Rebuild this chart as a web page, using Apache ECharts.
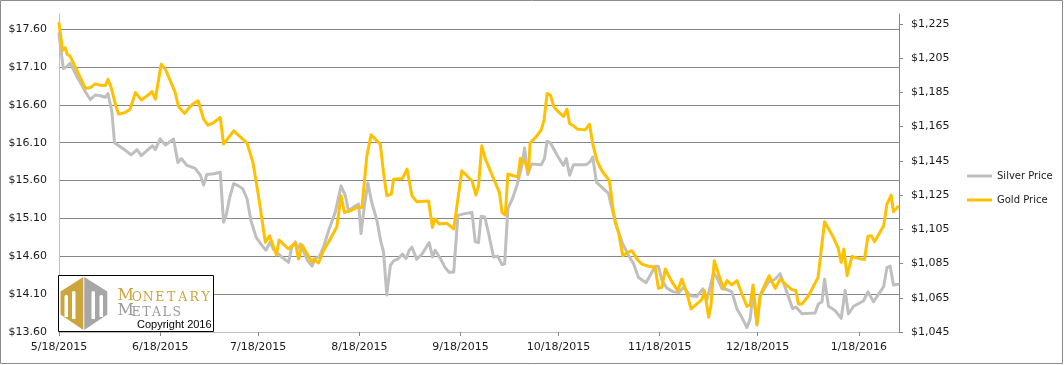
<!DOCTYPE html>
<html><head><meta charset="utf-8">
<script src="https://cdn.jsdelivr.net/npm/echarts@6/dist/echarts.min.js"></script>
<style>html,body{margin:0;padding:0;background:#fff}#c{width:1064px;height:365px}</style>
</head><body><div id="c"></div>
<script>
// x values: days since 5/18/2015
const xTickDays = [0, 31, 61, 92, 123, 153, 184, 214, 245];
const xTickLabels = ['5/18/2015','6/18/2015','7/18/2015','8/18/2015','9/18/2015','10/18/2015','11/18/2015','12/18/2015','1/18/2016'];

const silverDays = [0,1.3,2.3,3.4,4.5,5.5,7.0,8.1,9.6,11.1,12.7,14.2,15.0,16.2,17.0,18.3,20.3,22.1,23.9,25.2,27.0,28.7,29.5,31.0,32.6,33.6,35.1,36.4,37.5,39.2,41.7,43.3,44.3,45.3,47.4,49.4,50.4,51.2,52.3,53.5,55.0,56.3,57.6,58.8,60.4,62.2,63.4,64.7,65.7,67.3,68.8,70.3,71.3,72.4,73.1,73.9,76.2,77.5,78.5,79.8,81.0,82.6,84.6,86.4,87.7,88.7,90.2,91.8,92.5,93.5,94.6,95.8,97.4,98.6,99.4,100.4,101.5,102.5,104.0,105.2,106.3,107.3,108.1,109.6,111.2,113.4,114.4,115.2,116.8,118.3,119.5,120.9,122.2,123.9,126.5,127.5,128.5,129.3,130.4,131.6,133.1,134.4,135.7,136.5,137.5,138.9,140.3,141.8,142.6,143.6,144.7,147.7,148.7,149.5,150.5,152.5,154.5,155.4,156.4,157.6,161.5,162.7,163.5,164.6,166.3,168.3,169.4,170.9,172.7,174.5,176.0,177.5,179.8,181.6,182.6,183.6,184.7,186.2,188.2,189.8,191.3,193.4,195.4,197.2,198.5,200.5,201.5,203.1,204.6,206.1,207.7,209.2,210.7,211.7,212.6,213.8,214.8,217.3,219.4,220.9,223.0,224.7,225.7,227.6,231.6,232.6,233.7,234.5,235.7,237.8,239.6,240.8,241.8,243.4,246.4,247.8,249.5,252.6,253.6,254.6,255.6,257.0];
const silverPrices = [17.54,17.08,17.10,17.15,17.06,16.97,16.86,16.77,16.67,16.73,16.72,16.70,16.75,16.51,16.10,16.06,16.00,15.94,16.01,15.93,16.00,16.06,16.01,16.15,16.07,16.10,16.15,15.84,15.89,15.80,15.76,15.67,15.54,15.68,15.69,15.71,15.05,15.14,15.38,15.56,15.53,15.49,15.36,15.07,14.85,14.74,14.68,14.79,14.69,14.63,14.57,14.52,14.72,14.79,14.70,14.76,14.54,14.47,14.57,14.60,14.72,14.94,15.18,15.53,15.40,15.20,15.25,15.29,14.90,15.25,15.57,15.31,15.07,14.79,14.66,14.09,14.48,14.54,14.57,14.63,14.57,14.68,14.72,14.56,14.63,14.78,14.59,14.68,14.57,14.45,14.39,14.39,15.14,15.16,15.18,14.79,14.78,15.13,15.12,14.90,14.59,14.60,14.49,14.50,15.23,15.36,15.54,15.80,16.03,15.68,15.82,15.81,15.89,16.12,16.10,15.94,15.80,15.89,15.67,15.81,15.81,15.85,15.91,15.58,15.51,15.43,15.23,14.98,14.76,14.61,14.50,14.32,14.25,14.39,14.47,14.47,14.28,14.18,14.13,14.12,14.19,14.08,14.07,14.17,14.03,14.38,14.32,14.17,14.16,14.13,13.90,13.79,13.66,13.77,14.12,13.69,14.08,14.26,14.30,14.37,14.12,13.91,13.93,13.84,13.85,13.97,14.00,14.30,13.94,13.88,13.78,14.15,13.84,13.94,14.01,14.13,14.00,14.20,14.45,14.47,14.22,14.23];

const goldDays = [0,1.1,1.9,2.5,3.4,4.2,8.1,9.6,11.1,12.7,14.2,15.0,16.0,17.4,18.3,20.3,21.8,23.4,25.2,27.0,28.5,29.5,31.3,32.6,34.1,35.6,36.6,38.5,39.7,40.9,42.6,44.3,45.6,47.4,49.4,50.4,53.5,57.6,59.4,61.1,63.2,64.5,66.6,67.4,70.3,72.4,73.4,74.4,77.5,78.0,79.5,81.0,83.1,85.1,86.4,87.4,89.2,91.3,92.8,94.3,95.6,98.4,99.4,100.4,101.8,102.5,105.2,106.6,108.1,109.6,113.2,114.4,115.2,116.5,118.8,120.9,123.4,126.5,127.7,128.5,129.5,130.6,133.6,134.9,135.7,136.7,137.5,139.2,140.6,141.3,142.8,143.8,144.3,146.4,147.7,148.6,149.5,150.5,151.6,153.0,154.5,155.6,156.4,157.6,158.8,161.2,162.5,163.5,164.8,166.3,168.6,169.7,170.4,171.4,172.7,174.1,175.5,177.2,178.5,180.6,182.6,183.6,184.7,185.7,187.7,189.5,190.8,192.3,193.6,195.4,196.9,197.7,199.0,199.7,200.7,202.2,203.6,204.6,206.1,207.7,209.2,210.7,211.7,212.6,213.8,214.8,217.5,219.4,220.9,222.4,224.5,225.7,226.5,227.6,229.6,232.5,234.5,236.8,238.6,239.6,240.4,241.4,242.9,244.9,246.7,247.8,248.8,249.8,252.6,253.6,254.9,255.6,257.0];
const goldPrices = [1225.4,1209.5,1211.2,1207.3,1206.3,1203.0,1187.3,1187.8,1190.0,1189.2,1189.0,1192.7,1187.8,1177.1,1172.3,1173.2,1175.2,1184.9,1180.6,1183.0,1185.5,1181.0,1201.5,1198.5,1191.7,1184.9,1176.6,1172.7,1175.6,1178.1,1180.1,1169.4,1165.9,1167.4,1170.3,1154.8,1162.5,1155.4,1144.1,1124.6,1097.4,1101.3,1090.0,1098.7,1093.5,1097.0,1087.6,1096.0,1085.7,1087.6,1085.3,1092.5,1099.3,1106.5,1124.6,1114.9,1115.7,1117.8,1117.8,1148.0,1160.2,1154.8,1138.2,1124.6,1125.6,1134.3,1134.7,1140.2,1124.6,1121.1,1121.5,1106.1,1111.0,1108.1,1108.5,1105.2,1139.2,1133.4,1125.0,1130.4,1153.8,1146.0,1132.4,1126.6,1114.9,1113.3,1137.3,1136.3,1135.7,1146.4,1144.1,1138.2,1155.4,1159.6,1163.1,1169.0,1184.3,1183.6,1176.5,1173.6,1170.9,1175.2,1166.8,1165.5,1163.5,1163.1,1166.4,1154.8,1145.0,1139.2,1133.4,1116.8,1109.0,1103.2,1089.6,1091.5,1092.5,1087.3,1084.7,1083.4,1082.8,1070.5,1071.1,1081.8,1074.4,1069.2,1076.0,1067.8,1058.5,1061.4,1063.9,1069.2,1053.6,1060.4,1086.7,1077.9,1070.5,1075.0,1072.5,1075.0,1067.2,1060.0,1060.8,1072.5,1049.7,1066.6,1077.9,1070.5,1076.0,1073.1,1069.7,1069.2,1061.4,1061.4,1066.2,1076.9,1109.4,1101.7,1094.5,1085.7,1093.5,1077.9,1089.2,1088.0,1087.3,1100.9,1101.3,1097.8,1107.1,1119.7,1125.0,1115.3,1118.2];

const chart = echarts.init(document.getElementById('c'), null, {renderer: 'canvas'});
const labelFont = {fontFamily: 'DejaVu Sans', fontSize: 11, color: '#1a1a1a'};
function commas(n) { return String(Math.round(n)).replace(/\B(?=(\d{3})+(?!\d))/g, ','); }

// logo letters
const logoGraphics = [];
function spaced(word, x0, step, y, size, color) {
  for (let i = 0; i < word.length; i++) {
    logoGraphics.push({type: 'text', z: 103, style: {text: word[i], x: x0 + step * (i + 0.5), y: y, align: 'center', verticalAlign: 'middle', font: size + 'px "DejaVu Serif"', fill: color}});
  }
}
const goldC = '#CDA53F', grayC = '#9A9A9A';
logoGraphics.push({type: 'text', z: 103, style: {text: 'M', x: 117.5, y: 296.3, align: 'left', verticalAlign: 'middle', font: '16px "DejaVu Serif"', fill: goldC}});
spaced('ONETARY', 131, 11.5, 297.4, 12.5, goldC);
logoGraphics.push({type: 'text', z: 103, style: {text: 'M', x: 117.5, y: 311.3, align: 'left', verticalAlign: 'middle', font: '16px "DejaVu Serif"', fill: grayC}});
spaced('ETALS', 131, 10.2, 312.4, 12.5, grayC);

chart.setOption({
  animation: false,
  backgroundColor: '#ffffff',
  grid: {left: 59, right: 165, top: 14, bottom: 33, containLabel: false},
  legend: {
    orient: 'vertical', left: 962, top: 164, itemWidth: 25, itemHeight: 3, itemGap: 10, icon: 'rect',
    textStyle: {fontFamily: 'DejaVu Sans', fontSize: 10, color: '#1a1a1a', lineHeight: 14},
    data: ['Silver Price', 'Gold Price']
  },
  xAxis: {
    type: 'value', min: 0, max: 257.3,
    axisLine: {show: true, lineStyle: {color: '#BFBFBF', width: 1}},
    axisTick: {show: true, length: 4, lineStyle: {color: '#868686'}, customValues: xTickDays},
    axisLabel: Object.assign({margin: 10, customValues: xTickDays, formatter: v => { const i = xTickDays.indexOf(v); return i >= 0 ? xTickLabels[i] : ''; }}, labelFont),
    splitLine: {show: false}
  },
  yAxis: [
    {
      type: 'value', min: 13.6, max: 17.8, interval: 0.5, position: 'left',
      axisLine: {show: true, lineStyle: {color: '#BFBFBF', width: 1}},
      axisTick: {show: false},
      axisLabel: Object.assign({margin: 12, showMaxLabel: false, formatter: v => '$' + v.toFixed(2)}, labelFont),
      splitLine: {show: true, showMaxLine: false, showMinLine: false, lineStyle: {color: '#868686', width: 1}}
    },
    {
      type: 'value', min: 1045, max: 1230.8, interval: 20, position: 'right',
      axisLine: {show: true, lineStyle: {color: '#868686', width: 1}},
      axisTick: {show: true, length: 4, inside: false, lineStyle: {color: '#868686'}},
      axisLabel: Object.assign({margin: 12, showMaxLabel: false, formatter: v => '$' + commas(v)}, labelFont),
      splitLine: {show: false}
    }
  ],
  series: [
    {name: 'Silver Price', type: 'line', yAxisIndex: 0, showSymbol: false, symbol: 'none', z: 3,
     lineStyle: {color: '#BFBFBF', width: 3, join: 'round', cap: 'round'}, itemStyle: {color: '#BFBFBF'},
     data: silverDays.map((d, i) => [d, silverPrices[i]])},
    {name: 'Gold Price', type: 'line', yAxisIndex: 1, showSymbol: false, symbol: 'none', z: 4,
     lineStyle: {color: '#FFC000', width: 3, join: 'round', cap: 'round'}, itemStyle: {color: '#FFC000'},
     data: goldDays.map((d, i) => [d, goldPrices[i]])}
  ],
  graphic: [
    {type: 'rect', z: 1, silent: true, shape: {x: 0.5, y: 0.5, width: 1062, height: 363}, style: {fill: 'none', stroke: '#8C8C8C', lineWidth: 1}},
    {type: 'rect', z: 100, shape: {x: 58.5, y: 275.5, width: 155, height: 56}, style: {fill: '#ffffff', stroke: '#000000', lineWidth: 1}},
    {type: 'polygon', z: 101, shape: {points: [[83.3, 277], [60.5, 291.5], [60.5, 314.5], [83.3, 330], [83.3, 277]]}, style: {fill: goldC}},
    {type: 'polygon', z: 101, shape: {points: [[84.3, 277], [107.3, 291.5], [107.3, 314.5], [84.3, 330]]}, style: {fill: '#A6A6A6'}},
    {type: 'rect', z: 102, shape: {x: 64.5, y: 295, width: 3.5, height: 22, r: [1.5, 1.5, 0, 0]}, style: {fill: '#fff'}},
    {type: 'rect', z: 102, shape: {x: 72, y: 291, width: 3.5, height: 28, r: [1.5, 1.5, 0, 0]}, style: {fill: '#fff'}},
    {type: 'rect', z: 102, shape: {x: 91.5, y: 291, width: 3.5, height: 28, r: [1.5, 1.5, 0, 0]}, style: {fill: '#fff'}},
    {type: 'rect', z: 102, shape: {x: 99.5, y: 295, width: 3.5, height: 22, r: [1.5, 1.5, 0, 0]}, style: {fill: '#fff'}},
    ...logoGraphics,
    {type: 'text', z: 103, style: {text: 'Copyright 2016', x: 137, y: 324.5, align: 'left', verticalAlign: 'middle', font: '11px "Liberation Sans", Arial, sans-serif', fill: '#000'}}
  ]
});
</script></body></html>
